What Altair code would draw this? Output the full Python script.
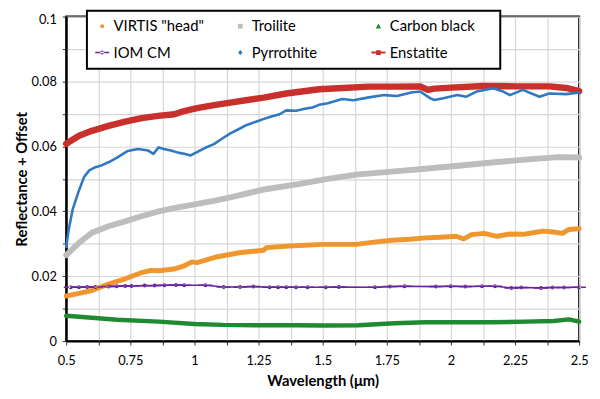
import altair as alt
import pandas as pd

FONT = "Lato"

SERIES = ['VIRTIS "head"', "Troilite", "Carbon black", "IOM CM", "Pyrrothite", "Enstatite"]
COLORS = ["#f0962e", "#bdbdbd", "#1f8a32", "#6a22a0", "#2f78c4", "#c9302c"]
WIDTHS = [5, 6, 4.5, 1.6, 2.6, 6.5]
SHAPES = [
    "M-0.27,0A0.27,0.27 0 1,0 0.27,0A0.27,0.27 0 1,0 -0.27,0Z",
    "M-0.32,-0.32H0.32V0.32H-0.32Z",
    "M0,-0.36L0.36,0.3H-0.36Z",
    "M-0.95,-0.1H0.95V0.1H-0.95Z M-0.27,0A0.27,0.27 0 1,0 0.27,0A0.27,0.27 0 1,0 -0.27,0Z",
    "M0,-0.36L0.3,0L0,0.36L-0.3,0Z",
    "M-0.95,-0.13H0.95V0.13H-0.95Z M-0.32,-0.32H0.32V0.32H-0.32Z",
]

VIRTIS_WL = [0.50, 0.55, 0.60, 0.665, 0.73, 0.79, 0.83, 0.86, 0.92, 0.96, 0.99, 1.01, 1.09, 1.18,
             1.27, 1.28, 1.37, 1.50, 1.63, 1.70, 1.77, 1.84, 1.90, 1.96, 2.02, 2.05, 2.08, 2.13,
             2.18, 2.23, 2.28, 2.32, 2.36, 2.40, 2.435, 2.46, 2.50]
VIRTIS_Y = [0.0139, 0.0147, 0.0156, 0.0176, 0.0192, 0.0210, 0.0218, 0.0217, 0.0222, 0.0232, 0.0244,
            0.0242, 0.0260, 0.0273, 0.0280, 0.0288, 0.0293, 0.0298, 0.0298, 0.0305, 0.0311, 0.0314,
            0.0318, 0.0320, 0.0323, 0.0315, 0.0328, 0.0332, 0.0323, 0.0330, 0.0329, 0.0334, 0.0339,
            0.0336, 0.0332, 0.0344, 0.0346]

TROILITE_WL = [0.50, 0.55, 0.60, 0.665, 0.73, 0.79, 0.86, 0.92, 0.99, 1.08, 1.14, 1.27, 1.40, 1.52,
               1.63, 1.78, 1.91, 2.04, 2.17, 2.30, 2.42, 2.50]
TROILITE_Y = [0.0265, 0.0303, 0.0334, 0.0354, 0.0369, 0.0384, 0.0400, 0.0410, 0.0420, 0.0433, 0.0443,
              0.0467, 0.0483, 0.0500, 0.0513, 0.0523, 0.0532, 0.0541, 0.0551, 0.0560, 0.0567, 0.0566]

CARBON_WL = [0.50, 0.60, 0.70, 0.86, 1.00, 1.11, 1.25, 1.40, 1.50, 1.64, 1.78, 1.90, 2.04, 2.15,
             2.29, 2.40, 2.46, 2.50]
CARBON_Y = [0.0078, 0.0072, 0.0066, 0.0060, 0.0053, 0.0050, 0.0049, 0.0049, 0.0048, 0.0049, 0.0055,
            0.0058, 0.0058, 0.0058, 0.0060, 0.0062, 0.0067, 0.0060]

IOM_WL = [0.518, 0.55, 0.582, 0.614, 0.665, 0.697, 0.73, 0.755, 0.806, 0.845, 0.883, 0.928, 0.96,
          1.043, 1.114, 1.178, 1.23, 1.293, 1.326, 1.358, 1.396, 1.441, 1.512, 1.563, 1.704, 1.762,
          1.819, 1.941, 1.999, 2.056, 2.121, 2.172, 2.236, 2.274, 2.351, 2.396, 2.441, 2.499]
IOM_Y = [0.0166, 0.0166, 0.0167, 0.0167, 0.0168, 0.0169, 0.0170, 0.0170, 0.0171, 0.0171, 0.0172,
         0.0173, 0.0172, 0.0172, 0.0167, 0.0167, 0.0168, 0.0166, 0.0166, 0.0166, 0.0166, 0.0166,
         0.0166, 0.0167, 0.0166, 0.0168, 0.0169, 0.0168, 0.0169, 0.0168, 0.0169, 0.0169, 0.0164,
         0.0165, 0.0164, 0.0165, 0.0165, 0.0166]

PYRR_WL = [0.50, 0.51, 0.525, 0.55, 0.57, 0.59, 0.614, 0.64, 0.665, 0.70, 0.74, 0.78, 0.82, 0.84,
           0.86, 0.88, 0.908, 0.94, 0.96, 0.985, 1.01, 1.04, 1.076, 1.11, 1.14, 1.17, 1.204, 1.24,
           1.268, 1.30, 1.332, 1.358, 1.396, 1.43, 1.46, 1.486, 1.52, 1.576, 1.62, 1.68, 1.74, 1.79,
           1.845, 1.88, 1.92, 1.935, 1.97, 2.025, 2.06, 2.10, 2.165, 2.20, 2.23, 2.28, 2.345, 2.383,
           2.45, 2.50]
PYRR_Y = [0.0290, 0.0345, 0.0405, 0.0465, 0.0506, 0.0526, 0.0536, 0.0542, 0.0551, 0.0566, 0.0586,
          0.0592, 0.0587, 0.0577, 0.0597, 0.0592, 0.0587, 0.0580, 0.0577, 0.0572, 0.0582, 0.0595,
          0.0607, 0.0625, 0.0640, 0.0652, 0.0666, 0.0676, 0.0684, 0.0692, 0.0699, 0.0711, 0.0710,
          0.0716, 0.0720, 0.0728, 0.0733, 0.0746, 0.0742, 0.0751, 0.0758, 0.0755, 0.0766, 0.0769,
          0.0748, 0.0743, 0.0748, 0.0758, 0.0753, 0.0769, 0.0779, 0.0770, 0.0758, 0.0774, 0.0753,
          0.0763, 0.0761, 0.0766]

ENST_WL = [0.50, 0.55, 0.60, 0.665, 0.73, 0.794, 0.858, 0.922, 0.96, 1.01, 1.076, 1.14, 1.20, 1.27,
           1.358, 1.486, 1.58, 1.68, 1.78, 1.88, 1.91, 1.935, 2.00, 2.127, 2.255, 2.383, 2.45, 2.50]
ENST_Y = [0.0608, 0.0633, 0.0648, 0.0663, 0.0676, 0.0687, 0.0694, 0.0699, 0.0709, 0.0718, 0.0727,
          0.0735, 0.0742, 0.0750, 0.0763, 0.0776, 0.0780, 0.0784, 0.0784, 0.0785, 0.0774, 0.0778,
          0.0781, 0.0786, 0.0785, 0.0785, 0.0780, 0.0770]

X_TICKS = [0.5, 0.625, 0.75, 0.875, 1.0, 1.125, 1.25, 1.375, 1.5, 1.625, 1.75, 1.875, 2.0, 2.125,
           2.25, 2.375, 2.5]
Y_TICKS = [0.0, 0.01, 0.02, 0.03, 0.04, 0.05, 0.06, 0.07, 0.08, 0.09, 0.1]

SOURCES = {
    'VIRTIS "head"': (VIRTIS_WL, VIRTIS_Y),
    "Troilite": (TROILITE_WL, TROILITE_Y),
    "Carbon black": (CARBON_WL, CARBON_Y),
    "IOM CM": (IOM_WL, IOM_Y),
    "Pyrrothite": (PYRR_WL, PYRR_Y),
    "Enstatite": (ENST_WL, ENST_Y),
}
rows = []
for name, (wls, vals) in SOURCES.items():
    for w, v in zip(wls, vals):
        rows.append({"series": name, "wl": w, "val": v})
df = pd.DataFrame(rows)

legend = alt.Legend(
    title="\u00a0", titleOrient="right", titlePadding=18, titleFontSize=15,
    orient="none", legendX=21, legendY=-6, columns=3, direction="horizontal",
    gridAlign="all", columnPadding=29, rowPadding=11, padding=8,
    fillColor="white", strokeColor="black",
    labelFont=FONT, labelFontSize=15, labelColor="black", labelOffset=4,
    symbolSize=225, symbolStrokeWidth=0, symbolOpacity=1,
)

x_enc = alt.X("wl:Q", scale=alt.Scale(domain=[0.5, 2.5], nice=False, zero=False),
              axis=alt.Axis(values=X_TICKS, title="Wavelength (μm)", labelPadding=10,
                            labelExpr="(round(datum.value*1000) % 250 == 0) ? format(datum.value, '~g') : ''"))
y_enc = alt.Y("val:Q", scale=alt.Scale(domain=[0, 0.1], nice=False),
              axis=alt.Axis(values=Y_TICKS, title="Reflectance + Offset",
                            labelOffset={"condition": {"test": "datum.value > 0.095", "value": 3}, "value": 0},
                            labelExpr="(round(datum.value*1000) % 20 == 0) ? format(datum.value, '~g') : ''"))
color_enc = alt.Color("series:N", scale=alt.Scale(domain=SERIES, range=COLORS), legend=legend)
shape_enc = alt.Shape("series:N", scale=alt.Scale(domain=SERIES, range=SHAPES), legend=legend)

base = alt.Chart(df)
order = ["Carbon black", "IOM CM", 'VIRTIS "head"', "Troilite", "Enstatite", "Pyrrothite"]
layers = []
for name in order:
    w = WIDTHS[SERIES.index(name)]
    layers.append(
        base.transform_filter(alt.datum.series == name)
        .mark_line(strokeWidth=w, strokeJoin="round", strokeCap="round")
        .encode(x=x_enc, y=y_enc, color=color_enc)
    )
layers.append(
    base.transform_filter(alt.datum.series == "IOM CM")
    .mark_point(filled=True, size=225, opacity=1)
    .encode(x=x_enc, y=y_enc, color=color_enc, shape=shape_enc)
)

chart = alt.layer(*layers).properties(
    width=520, height=329,
    autosize=alt.AutoSizeParams(type="none"),
    padding={"left": 59, "top": 6, "right": 13, "bottom": 56},
).configure_view(
    stroke="black", strokeWidth=2
).configure_legend(
    strokeWidth=2
).configure_axis(
    labelFont=FONT, labelFontSize=13, labelColor="black",
    titleFont=FONT, titleFontSize=15, titleFontWeight="bold", titleColor="black",
    grid=True, gridColor="#d6d6d6", gridWidth=1.2,
    domainColor="black", domainWidth=2,
    tickColor="#333333", tickSize=4, tickWidth=1,
    labelPadding=6,
).configure_axisX(
    titlePadding=6, labelFlush=False
).configure_axisY(
    titlePadding=2
)

chart.save("out.html", embed_options={"renderer": "svg", "actions": False})
